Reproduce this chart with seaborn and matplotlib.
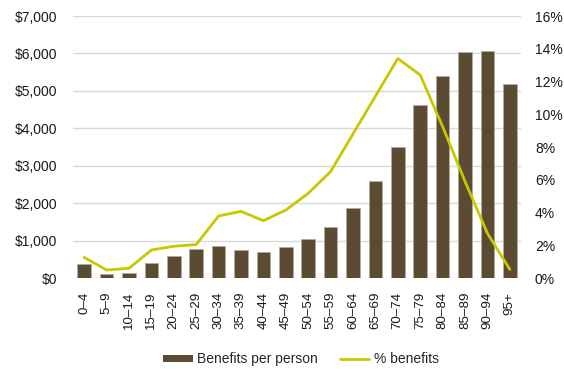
import matplotlib
matplotlib.use("Agg")
import matplotlib.pyplot as plt
import matplotlib.ticker as mticker
from matplotlib import font_manager
from matplotlib.lines import Line2D
from matplotlib.patches import Patch
import seaborn as sns
import pandas as pd

# Age groups and the two series
age_groups = ["0–4", "5–9", "10–14", "15–19", "20–24", "25–29", "30–34", "35–39",
              "40–44", "45–49", "50–54", "55–59", "60–64", "65–69", "70–74", "75–79",
              "80–84", "85–89", "90–94", "95+"]
benefits_per_person = [370, 100, 125, 400, 590, 775, 845, 760, 705, 820,
                       1040, 1355, 1880, 2590, 3500, 4610, 5405, 6045, 6065, 5175]
pct_benefits = [1.26, 0.49, 0.59, 1.71, 1.94, 2.04, 3.79, 4.07, 3.50, 4.15,
                5.17, 6.50, 8.80, 11.10, 13.40, 12.40, 9.25, 5.90, 2.73, 0.53]

left_ticks = [0, 1000, 2000, 3000, 4000, 5000, 6000, 7000]
right_ticks = [0, 2, 4, 6, 8, 10, 12, 14, 16]

df = pd.DataFrame({"age": age_groups,
                   "benefit": benefits_per_person,
                   "pct": pct_benefits})

sns.set_theme(style="white")

installed = {f.name for f in font_manager.fontManager.ttflist}
if "Liberation Sans Narrow" in installed:
    FAMILY, FS_Y, FS_X = "Liberation Sans Narrow", 11, 11
else:
    FAMILY, FS_Y, FS_X = "Liberation Sans", 10, 9.6
plt.rcParams["font.family"] = [FAMILY, "DejaVu Sans"]

BAR_COLOR = "#5b4b33"
LINE_COLOR = "#c8c800"
GRID_COLOR = "#d9d9d9"
TEXT_COLOR = "#1a1a1a"

fig = plt.figure(figsize=(5.64, 3.69), dpi=100)
ax = fig.add_axes([0.1294, 0.2466, 0.7944, 0.71])

sns.barplot(data=df, x="age", y="benefit", color=BAR_COLOR, width=0.6,
            saturation=1, edgecolor="#b5aa98", linewidth=0.6, ax=ax, zorder=2)

ax.set_ylim(0, 7000)
ax.set_yticks(left_ticks)
ax.yaxis.set_major_formatter(mticker.FuncFormatter(lambda v, p: f"${v:,.0f}"))
ax.set_xlim(-0.5, len(age_groups) - 0.5)
ax.grid(axis="y", color=GRID_COLOR, linewidth=1.0, zorder=0)
ax.set_axisbelow(True)
ax.set_xlabel("")
ax.set_ylabel("")
for s in ax.spines.values():
    s.set_visible(False)
ax.tick_params(axis="y", length=0, labelsize=FS_Y, colors=TEXT_COLOR, pad=11.5)
ax.tick_params(axis="x", length=0, labelsize=FS_X, colors=TEXT_COLOR,
               rotation=90, pad=10)

ax2 = ax.twinx()
sns.lineplot(data=df, x="age", y="pct", color=LINE_COLOR, linewidth=2.0,
             sort=False, ax=ax2, zorder=3)
ax2.set_ylim(0, 16)
ax2.set_yticks(right_ticks)
ax2.yaxis.set_major_formatter(mticker.FuncFormatter(lambda v, p: f"{v:.0f}%"))
ax2.set_ylabel("")
for s in ax2.spines.values():
    s.set_visible(False)
ax2.tick_params(axis="y", length=0, labelsize=FS_Y, colors=TEXT_COLOR, pad=10)
ax2.grid(False)

handles = [Patch(facecolor=BAR_COLOR, edgecolor="none"),
           Line2D([0], [0], color=LINE_COLOR, linewidth=2.0)]
fig.legend(handles, ["Benefits per person", "% benefits"], loc="center",
           bbox_to_anchor=(0.534, 0.026), ncol=2, frameon=False,
           fontsize=FS_Y, handlelength=2.1, handleheight=0.5,
           columnspacing=1.6, handletextpad=0.33)

fig.savefig("out.png", dpi=100)
